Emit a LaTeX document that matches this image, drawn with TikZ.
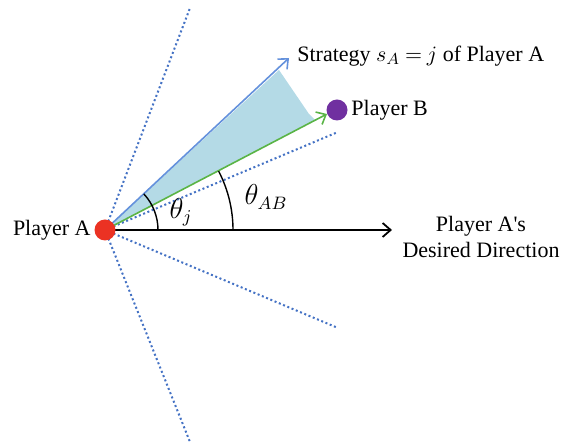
\documentclass[tikz,border=0pt]{standalone}
\usepackage{fontspec}
\setmainfont{Liberation Serif}
\usetikzlibrary{arrows.meta,calc}
\definecolor{dotblue}{RGB}{68,114,196}
\definecolor{stratblue}{RGB}{100,145,220}
\definecolor{fillblue}{RGB}{180,218,230}
\definecolor{grn}{RGB}{90,180,70}
\definecolor{redA}{RGB}{235,50,35}
\definecolor{purp}{RGB}{112,48,160}
\tikzset{
  dotline/.style={dotblue, line width=1pt, dash pattern=on 1pt off 1.3pt},
  lbl/.style={font=\fontsize{11}{13}\selectfont, inner sep=1pt},
  anglbl/.style={font=\fontsize{13.5}{15}\selectfont, inner sep=1pt},
  barb/.style={-{Straight Barb[length=4pt,width=7pt]}},
}
\begin{document}
\begin{tikzpicture}[x=0.5pt,y=-0.5pt]
\useasboundingbox (0,0) rectangle (568,448);
% coordinates
\coordinate (Ac) at (105,230);
\coordinate (d1) at (190,8);
\coordinate (d2) at (338,132);
\coordinate (d3) at (338,328);
\coordinate (d4) at (190,442);
\coordinate (st) at (289,58);
\coordinate (gr) at (327,114);
\coordinate (dd) at (392,230);
\coordinate (f1) at (279,70);
\coordinate (f2) at (309,114);
% fill
\fill[fillblue] (Ac) -- (f1) -- (f2) -- (315,120) -- cycle;
% dotted lines
\draw[dotline] (Ac) -- (d1);
\draw[dotline] (Ac) -- (d2);
\draw[dotline] (Ac) -- (d3);
\draw[dotline] (Ac) -- (d4);
% arrows
\draw[stratblue, line width=0.8pt, barb] (Ac) -- (st);
\draw[grn, line width=0.8pt, barb] (Ac) -- (gr);
\draw[black, line width=0.9pt, barb] (Ac) -- (dd);
% angle arcs
\draw[black, line width=0.7pt] ($(Ac)+(53,0)$) arc[start angle=0, end angle=-42.9, radius=53];
\draw[black, line width=0.7pt] ($(Ac)+(128,0)$) arc[start angle=0, end angle=-27.4, radius=128];
% dots
\node[circle, fill=redA, minimum size=10.5pt, inner sep=0pt] (A) at (Ac) {};
\node[circle, fill=purp, minimum size=10.5pt, inner sep=0pt] (B) at (337,110) {};
% labels
\node[lbl, anchor=east] (la) at (93,230) {Player A};
\node[lbl, anchor=west] (lb) at (349,110) {Player B};
\node[lbl, anchor=west] (ls) at (295,56) {Strategy $s_A\mskip4mu{=}\mskip4mu j$ of Player A};
\node[lbl, align=center] (ld) at (481,237) {Player A\textquotesingle s\\Desired Direction};
\node[anglbl] (tj) at (181,212) {$\theta_j$};
\node[anglbl] (tab) at (266,197) {$\theta_{AB}$};
\end{tikzpicture}
\end{document}
